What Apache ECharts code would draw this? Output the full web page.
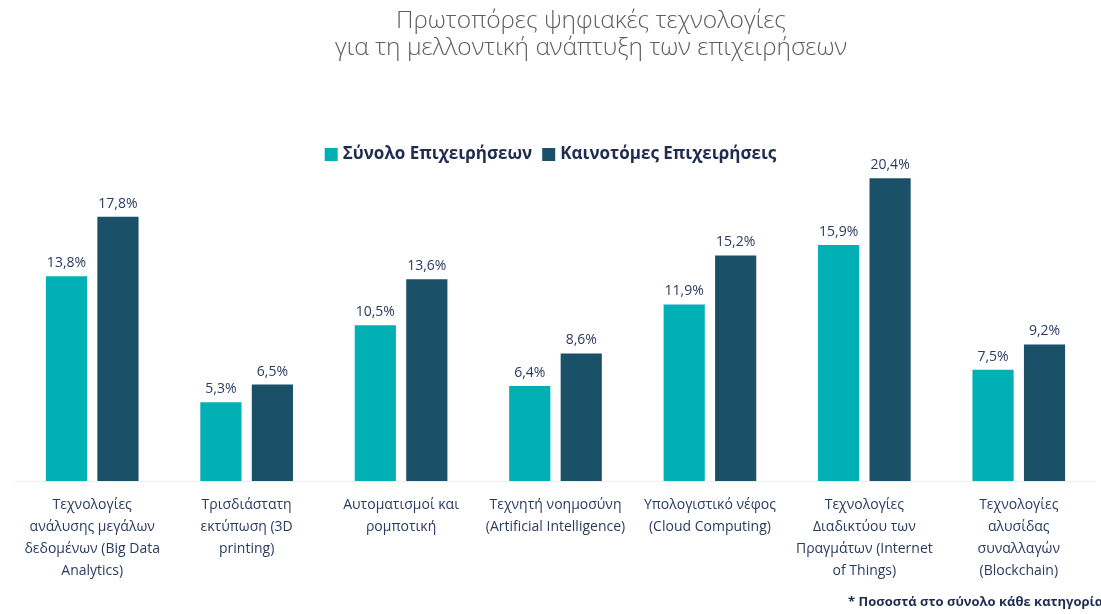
<!DOCTYPE html>
<html>
<head>
<meta charset="utf-8">
<script src="https://cdn.jsdelivr.net/npm/echarts@6/dist/echarts.min.js"></script>
<style>
  html, body { margin: 0; padding: 0; background: #fff; }
  #chart { width: 1101px; height: 614px; }
</style>
</head>
<body>
<div id="chart"></div>
<script>
let categories = [
    'Τεχνολογίες\nανάλυσης μεγάλων\nδεδομένων (Big Data\nAnalytics)',
    'Τρισδιάστατη\nεκτύπωση (3D\nprinting)',
    'Αυτοματισμοί και\nρομποτική',
    'Τεχνητή νοημοσύνη\n(Artificial Intelligence)',
    'Υπολογιστικό νέφος\n(Cloud Computing)',
    'Τεχνολογίες\nΔιαδικτύου των\nΠραγμάτων (Internet\nof Things)',
    'Τεχνολογίες\nαλυσίδας\nσυναλλαγών\n(Blockchain)'
];
let totalAll = [13.8, 5.3, 10.5, 6.4, 11.9, 15.9, 7.5];
let innovative = [17.8, 6.5, 13.6, 8.6, 15.2, 20.4, 9.2];

let myChart = echarts.init(document.getElementById('chart'));
let colors = ['#00b0b5', '#1a5168', '#5e5e5e', '#2a3b60'];
let font = '"Open Sans", sans-serif';

let pct = function (p) {
    return p.value.toFixed(1).replace('.', ',') + '%';
};

let option = {
    color: [colors[0], colors[1]],
    textStyle: { fontFamily: font },
    title: {
        text: 'Πρωτοπόρες ψηφιακές τεχνολογίες\nγια τη μελλοντική ανάπτυξη των επιχειρήσεων',
        left: 586,
        textAlign: 'center',
        top: 3,
        textStyle: {
            color: colors[2],
            fontSize: 24.5,
            fontWeight: 300,
            lineHeight: 27,
            fontFamily: font
        }
    },
    legend: {
        top: 141,
        left: 'center',
        itemWidth: 13,
        itemHeight: 13,
        itemGap: 10,
        icon: 'rect',
        textStyle: {
            color: '#1f2c4e',
            fontSize: 17,
            fontWeight: 'bold',
            fontFamily: font
        }
    },
    grid: {
        left: 15,
        right: 5,
        top: 110,
        bottom: 133,
        containLabel: false
    },
    xAxis: {
        type: 'category',
        data: categories,
        axisTick: { show: false },
        axisLine: { lineStyle: { color: '#eeeeee', width: 1 } },
        axisLabel: {
            interval: 0,
            color: colors[3],
            fontSize: 14,
            lineHeight: 22,
            margin: 13,
            fontFamily: font
        }
    },
    yAxis: {
        type: 'value',
        show: false,
        min: 0,
        max: 25,
        splitLine: { show: false }
    },
    series: [{
        name: 'Σύνολο Επιχειρήσεων',
        type: 'bar',
        data: totalAll,
        barGap: '25%',
        barCategoryGap: '40%',
        label: {
            show: true,
            position: 'top',
            distance: 6,
            color: colors[3],
            fontSize: 14,
            fontFamily: font,
            formatter: pct
        }
    }, {
        name: 'Καινοτόμες Επιχειρήσεις',
        type: 'bar',
        data: innovative,
        label: {
            show: true,
            position: 'top',
            distance: 6,
            color: colors[3],
            fontSize: 14,
            fontFamily: font,
            formatter: pct
        }
    }],
    graphic: [{
        type: 'text',
        left: 848,
        top: 596,
        style: {
            text: '* Ποσοστά στο σύνολο κάθε κατηγορίας',
            fill: '#1f2c4e',
            font: 'bold 13px "Open Sans", sans-serif'
        }
    }]
};
myChart.setOption(option);
</script>
</body>
</html>
